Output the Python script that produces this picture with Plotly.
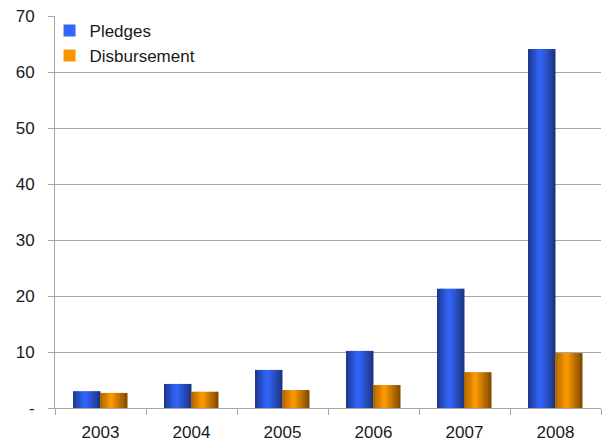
import plotly.graph_objects as go

years = ["2003", "2004", "2005", "2006", "2007", "2008"]
pledges = [3.0, 4.3, 6.8, 10.2, 21.3, 64.1]
disbursement = [2.7, 2.9, 3.2, 4.1, 6.4, 9.8]
y_ticks = [0, 10, 20, 30, 40, 50, 60, 70]
y_tick_text = ["-", "10", "20", "30", "40", "50", "60", "70"]

BAR_W = 0.297      # width of one bar, in category units
SLICES = 16        # vertical strips used to shade each bar

blue_stops = [(0.0, (30, 55, 140)), (0.45, (51, 102, 255)), (1.0, (28, 52, 128))]
orange_stops = [(0.0, (172, 100, 0)), (0.42, (255, 153, 0)), (1.0, (128, 76, 0))]


def shade(stops, t):
    for (p0, c0), (p1, c1) in zip(stops[:-1], stops[1:]):
        if p0 <= t <= p1:
            f = (t - p0) / (p1 - p0)
            r, g, b = (round(a + (b_ - a) * f) for a, b_ in zip(c0, c1))
            return f"rgb({r},{g},{b})"
    return f"rgb{stops[-1][1]}"


fig = go.Figure()


def add_shaded_bars(values, stops, start, name):
    sw = BAR_W / SLICES
    for k in range(SLICES):
        t = (k + 0.5) / SLICES
        fig.add_trace(go.Bar(
            x=years, y=values, width=sw, offset=start + k * sw,
            marker=dict(color=shade(stops, t), line=dict(width=0)),
            showlegend=False, hoverinfo="skip", legendgroup=name,
        ))
    # legend entry for the series
    fig.add_trace(go.Bar(
        x=[None], y=[None], name=name, legendgroup=name,
        marker=dict(color=shade(stops, 0.45), line=dict(width=0)),
    ))


add_shaded_bars(pledges, blue_stops, -BAR_W, "Pledges")
add_shaded_bars(disbursement, orange_stops, 0.0, "Disbursement")

grid = "#A6A6A6"
fig.update_layout(
    width=607, height=443,
    margin=dict(l=55, r=6, t=16, b=35),
    paper_bgcolor="white", plot_bgcolor="white",
    barmode="overlay",
    font=dict(family="Liberation Sans, Arial", size=17, color="#1a1a1a"),
    legend=dict(x=-0.01, y=1.008, xanchor="left", yanchor="top",
                bgcolor="rgba(0,0,0,0)", font=dict(size=17),
                tracegroupgap=0),
    xaxis=dict(type="category", tickson="boundaries", ticks="outside",
               ticklen=6, tickcolor=grid, showline=True, linecolor=grid,
               linewidth=1, showgrid=False, range=[-0.5, 5.5],
               ticklabelstandoff=9, automargin=False),
    yaxis=dict(range=[0, 70], tickvals=y_ticks, ticktext=y_tick_text,
               ticks="outside", ticklen=6, tickcolor=grid, showline=True,
               linecolor=grid, linewidth=1, showgrid=True, gridcolor=grid,
               gridwidth=1, zeroline=False, ticklabelstandoff=10,
               automargin=False),
)

fig.write_html("out.html")
